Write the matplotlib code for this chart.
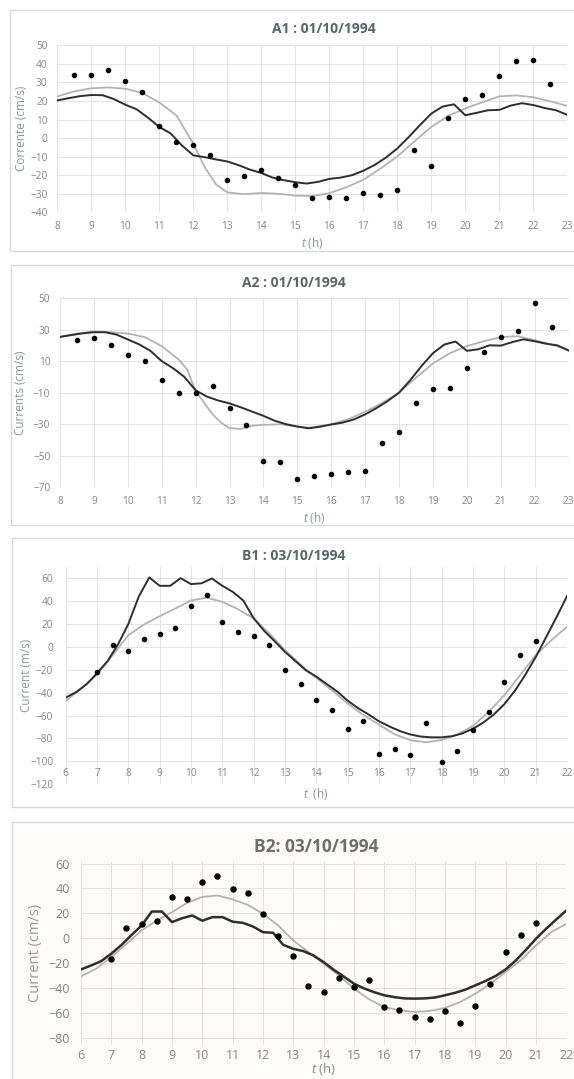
import matplotlib
matplotlib.use("Agg")
import matplotlib.pyplot as plt
from matplotlib.patches import Rectangle
import numpy as np

plt.rcParams["font.family"] = ["Open Sans", "DejaVu Sans"]
plt.rcParams["mathtext.fontset"] = "custom"
plt.rcParams["mathtext.it"] = "Open Sans:italic"
plt.rcParams["mathtext.rm"] = "Open Sans"

W, H = 574, 1079

# ---- A1 : 01/10/1994 ----
a1_obs_t = np.arange(8.5, 22.51, 0.5)
a1_obs = [34, 34, 36.5, 31, 25, 6.5, -2, -3.5, -9, -22.5, -20.5, -17, -21.5, -25.2, -32.5,
          -31.8, -32.3, -29.6, -30.8, -28, -6.5, -14.8, 10.7, 21, 23, 33.4, 41.7, 42, 29.1]
a1_dark_t = np.linspace(8, 23, 46)
a1_dark = [20.3, 21.5, 22.6, 23.2, 23.1, 21.0, 18.0, 15.5, 11.0, 6.0, 2.5, -4.0,
           -9.3, -10.3, -11.5, -12.6, -14.6, -17.0, -18.8, -21.3, -22.7, -23.8, -24.5, -23.6,
           -22.0, -21.3, -20.0, -17.6, -14.5, -10.5, -5.6, 0.5, 7.0, 13.2, 17.0, 18.2,
           12.3, 13.6, 15.0, 15.2, 17.5, 18.8, 17.8, 16.2, 15.0, 12.5]
a1_gray_t = [8, 8.5, 9, 9.5, 10, 10.5, 11, 11.5, 12, 12.33, 12.67, 13, 13.5, 14, 14.5, 15,
             15.5, 16, 16.5, 17, 17.5, 18, 18.5, 19, 19.5, 20, 20.5, 21, 21.5, 22, 22.5, 23]
a1_gray = [22.4, 25.2, 26.8, 27.3, 26.6, 24.3, 19.2, 12.3, -3.0, -15.5, -25.0, -29.3,
           -30.2, -29.6, -30.0, -31.0, -31.3, -29.7, -26.5, -22.5, -16.5, -9.9, -1.8, 6.0,
           12.0, 16.0, 19.3, 22.5, 23.0, 22.0, 19.8, 17.3]

# ---- A2 : 01/10/1994 ----
a2_obs_t = np.arange(8.5, 22.51, 0.5)
a2_obs = [23.3, 24.7, 19.9, 14.0, 10.2, -2.0, -10.0, -10.0, -5.8, -19.5, -30.6, -53.2,
          -54.2, -64.7, -62.6, -61.8, -60.1, -59.9, -41.8, -35.0, -16.5, -7.5, -7.3, 5.4,
          15.7, 25.4, 29.2, 46.6, 31.5]
a2_dark_t = np.linspace(8, 23, 46)
a2_dark = [25.3, 26.5, 27.6, 28.3, 28.3, 26.8, 23.7, 20.6, 16.5, 10.0, 5.5, 0.0,
           -8.5, -12.5, -15.0, -16.8, -19.3, -22.0, -24.7, -27.8, -30.0, -31.5, -32.6, -31.6,
           -30.2, -29.0, -27.0, -23.8, -19.8, -15.3, -10.0, -2.0, 7.0, 15.0, 20.5, 22.4,
           16.5, 17.5, 20.0, 19.8, 22.0, 23.8, 22.6, 21.0, 20.0, 16.7]
a2_gray_t = [8, 8.5, 9, 9.5, 10, 10.5, 11, 11.5, 11.75, 12, 12.5, 12.75, 13, 13.33, 13.67,
             14, 14.5, 15, 15.33, 16, 16.5, 17, 17.5, 18, 18.5, 19, 19.5, 20, 20.5, 21,
             21.5, 22, 22.5, 23]
a2_gray = [25.5, 27.5, 28.8, 28.3, 27.5, 25.2, 19.5, 11.0, 4.7, -9.0, -23.7, -29.0, -32.5,
           -33.0, -31.0, -30.4, -30.0, -31.5, -32.3, -30.0, -26.8, -22.2, -16.5, -10.0,
           -0.5, 8.5, 15.0, 19.5, 22.6, 25.2, 25.8, 23.3, 20.5, 17.0]

# ---- B1 : 03/10/1994 ----
b1_obs_t = np.arange(7, 21.01, 0.5)
b1_obs = [-21.8, 1.5, -3.5, 7.0, 10.8, 16.6, 36.1, 44.9, 21.3, 12.8, 9.3, 1.7, -20.4,
          -32.6, -46.6, -54.8, -71.7, -64.7, -93.8, -88.8, -94.1, -66.1, -100.5, -90.6,
          -72.8, -56.8, -30.9, -7.0, 5.2]
b1_dark_t = np.linspace(6, 22, 49)
b1_dark = [-44.3, -39.5, -32.6, -23.0, -12.5, 2.0, 20.0, 44.0, 60.6, 53.3, 53.3, 60.0,
           54.8, 55.5, 59.7, 53.3, 48.0, 40.5, 25.0, 14.0, 5.0, -4.4, -12.5, -20.5,
           -26.0, -32.5, -39.0, -47.0, -53.5, -59.0, -65.0, -69.5, -73.5, -76.5, -78.3, -79.0,
           -79.0, -78.0, -75.5, -71.5, -66.0, -59.0, -50.0, -38.5, -24.5, -9.0, 8.5, 26.0,
           44.3]
b1_gray_t = np.arange(6, 22.01, 0.5)
b1_gray = [-47.2, -36.4, -24.2, -7.3, 10.2, 19.5, 26.8, 33.5, 40.5, 43.0, 39.3, 32.9,
           24.8, 11.7, -2.9, -15.5, -27.1, -38.0, -49.5, -59.5, -67.9, -76.3, -81.5, -83.3,
           -81.3, -76.6, -69.0, -56.8, -42.2, -24.8, -7.3, 5.8, 17.5]

# ---- B2: 03/10/1994 ----
b2_obs_t = np.arange(7, 21.01, 0.5)
b2_obs = [-16.6, 8.0, 11.5, 13.9, 33.2, 31.3, 45.0, 50.0, 39.4, 36.4, 19.3, 1.9, -14.2,
          -38.3, -43.6, -31.9, -39.4, -33.5, -55.2, -57.8, -63.5, -65.1, -58.6, -68.5,
          -54.6, -37.2, -11.5, 2.4, 12.3]
b2_dark_t = np.linspace(6, 22, 49)
b2_dark = [-25.2, -22.0, -18.5, -12.5, -5.5, 2.5, 10.2, 21.4, 21.4, 12.9, 16.0, 18.2,
           14.0, 16.9, 16.9, 13.2, 12.3, 9.4, 4.8, 4.3, -5.4, -8.6, -10.5, -14.0,
           -19.3, -25.5, -31.0, -36.7, -40.5, -43.5, -46.0, -47.5, -48.5, -48.7, -48.5, -47.8,
           -46.0, -44.0, -41.5, -38.0, -34.5, -30.5, -25.2, -18.0, -9.5, -0.5, 7.5, 15.0,
           22.2]
b2_gray_t = np.arange(6, 22.01, 0.5)
b2_gray = [-30.8, -24.6, -15.3, -4.6, 6.2, 14.2, 20.9, 28.4, 33.2, 34.3, 31.1, 26.8,
           19.5, 10.2, -1.9, -11.2, -20.6, -30.0, -40.7, -49.3, -55.4, -58.1, -59.4, -58.6,
           -56.2, -51.4, -44.7, -36.7, -27.3, -17.9, -5.9, 4.8, 11.5]

GRID = "#e3e3e3"
TICK = "#858585"
YLAB = "#8a9899"
TITLE = "#5c6567"
DARK = "#2e2e2e"
GRAY = "#b3b3b3"
BOX = "#d9d9d9"


def px_axes(fig, left, top, right, bottom):
    return fig.add_axes([left / W, 1 - bottom / H, (right - left) / W, (bottom - top) / H])


def box(fig, left, top, right, bottom, face="none"):
    fig.patches.append(Rectangle((left / W, 1 - bottom / H), (right - left) / W,
                                 (bottom - top) / H, transform=fig.transFigure,
                                 facecolor=face, edgecolor=BOX, lw=1.0, zorder=-10))


def draw_panel(fig, rect, xlim, ylim, yticks, data, fs, lw_dark, ms, xpad, ypad):
    ax = px_axes(fig, *rect)
    ax.set_facecolor("none")
    obs_t, obs, dark_t, dark, gray_t, gray = data
    ax.plot(gray_t, gray, color=GRAY, lw=1.3, zorder=2)
    ax.plot(dark_t, dark, color=DARK, lw=lw_dark, zorder=3)
    ax.plot(obs_t, obs, "o", color="black", ms=ms, zorder=4)
    ax.set_xlim(*xlim)
    ax.set_ylim(*ylim)
    ax.set_xticks(np.arange(xlim[0], xlim[1] + 1, 1))
    ax.set_yticks(yticks)
    ax.grid(True, color=GRID, lw=0.7, zorder=0)
    for s in ax.spines.values():
        s.set_visible(False)
    ax.tick_params(length=0, labelsize=fs, colors=TICK)
    ax.tick_params(axis="x", pad=xpad)
    ax.tick_params(axis="y", pad=ypad)
    return ax


fig = plt.figure(figsize=(W / 100, H / 100), dpi=100)

# panel A1
box(fig, 10, 10, 640, 251)
draw_panel(fig, (57.3, 45.3, 567.3, 212.3), (8, 23), (-40, 50), np.arange(-40, 51, 10),
           (a1_obs_t, a1_obs, a1_dark_t, a1_dark, a1_gray_t, a1_gray), 7.3, 1.4, 3.0, 6, 7)
fig.text(324 / W, 1 - 29 / H, "A1 : 01/10/1994", ha="center", va="center",
         fontsize=10, fontweight="bold", color=TITLE)
fig.text(21.7 / W, 1 - 128.8 / H, "Corrente (cm/s)", rotation=90, ha="center", va="center",
         fontsize=8.5, color=YLAB)
fig.text(312 / W, 1 - 243 / H, r"$t$ (h)", ha="center", va="center", fontsize=8.5, color=YLAB)

# panel A2
box(fig, 10.7, 265.3, 640, 525.3)
draw_panel(fig, (60, 298, 568.6, 487.3), (8, 23), (-70, 50), np.arange(-70, 51, 20),
           (a2_obs_t, a2_obs, a2_dark_t, a2_dark, a2_gray_t, a2_gray), 7.3, 1.4, 3.0, 6, 7)
fig.text(294 / W, 1 - 282.7 / H, "A2 : 01/10/1994", ha="center", va="center",
         fontsize=10, fontweight="bold", color=TITLE)
fig.text(20.7 / W, 1 - 392.6 / H, "Currents (cm/s)", rotation=90, ha="center", va="center",
         fontsize=8.5, color=YLAB)
fig.text(314 / W, 1 - 518 / H, r"$t$ (h)", ha="center", va="center", fontsize=8.5, color=YLAB)

# panel B1
box(fig, 11.7, 538, 640, 807)
ax3 = draw_panel(fig, (65.7, 566.7, 567, 784.3), (6, 22), (-120, 70), np.arange(-120, 61, 20),
                 (b1_obs_t, b1_obs, b1_dark_t, b1_dark, b1_gray_t, b1_gray), 7.3, 1.4, 3.0, 5, 9)
ax3.spines["bottom"].set_position(("data", -100))
fig.text(294 / W, 1 - 555.7 / H, "B1 : 03/10/1994", ha="center", va="center",
         fontsize=10, fontweight="bold", color=TITLE)
fig.text(26.7 / W, 1 - 675.5 / H, "Current (m/s)", rotation=90, ha="center", va="center",
         fontsize=8.5, color=YLAB)
fig.text(316 / W, 1 - 794 / H, r"$t$  (h)", ha="center", va="center", fontsize=8.5, color=YLAB)

# panel B2
box(fig, 11.7, 821.7, 640, 1100, face="#fdfcfa")
draw_panel(fig, (81, 861.7, 566.3, 1045), (6, 22), (-86, 61.5), np.arange(-80, 61, 20),
           (b2_obs_t, b2_obs, b2_dark_t, b2_dark, b2_gray_t, b2_gray), 9, 1.8, 3.6, 3, 8)
fig.text(316 / W, 1 - 846.7 / H, "B2: 03/10/1994", ha="center", va="center",
         fontsize=12.5, fontweight="bold", color="#6e6e6e")
fig.text(35 / W, 1 - 953 / H, "Current (cm/s)", rotation=90, ha="center", va="center",
         fontsize=10.5, color="#9a9a9a")
fig.text(324 / W, 1 - 1069 / H, r"$t$ (h)", ha="center", va="center", fontsize=9.5,
         color="#8a8a8a")

fig.savefig("out.png", dpi=100)
